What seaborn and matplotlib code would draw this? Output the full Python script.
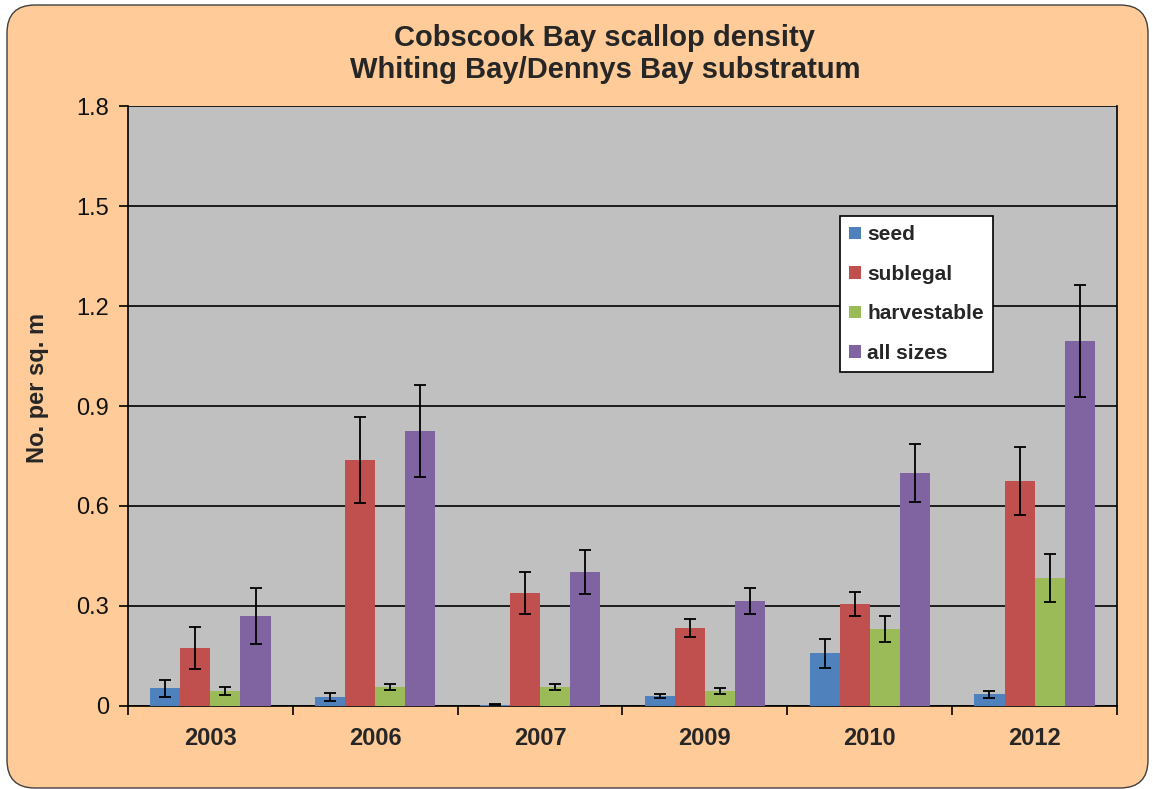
import matplotlib
matplotlib.use("Agg")
import matplotlib.pyplot as plt
import matplotlib.patches as mpatches
from matplotlib.ticker import FixedLocator
import numpy as np
import pandas as pd
import seaborn as sns

# ---- data ----
years = ['2003', '2006', '2007', '2009', '2010', '2012']
series_names = ['seed', 'sublegal', 'harvestable', 'all sizes']
seed = [0.053, 0.027, 0.004, 0.031, 0.158, 0.035]
seed_err = [0.025, 0.013, 0.002, 0.006, 0.043, 0.011]
sublegal = [0.174, 0.738, 0.339, 0.234, 0.306, 0.675]
sublegal_err = [0.062, 0.128, 0.062, 0.028, 0.037, 0.102]
harvestable = [0.045, 0.057, 0.057, 0.045, 0.231, 0.384]
harvestable_err = [0.012, 0.008, 0.008, 0.008, 0.039, 0.072]
all_sizes = [0.270, 0.825, 0.402, 0.315, 0.699, 1.095]
all_sizes_err = [0.085, 0.138, 0.066, 0.039, 0.088, 0.167]
y_ticks = [0, 0.3, 0.6, 0.9, 1.2, 1.5, 1.8]
y_tick_labels = ['0', '0.3', '0.6', '0.9', '1.2', '1.5', '1.8']
title = "Cobscook Bay scallop density\nWhiting Bay/Dennys Bay substratum"
y_label = "No. per sq. m"

colors = ['#4F81BD', '#C0504D', '#9BBB59', '#8064A2']
peach = '#FFCC99'
plot_bg = '#C0C0C0'

values = [seed, sublegal, harvestable, all_sizes]
errors = [seed_err, sublegal_err, harvestable_err, all_sizes_err]

rows = []
for name, vals, errs in zip(series_names, values, errors):
    for yr, v, e in zip(years, vals, errs):
        rows.append({'year': yr, 'series': name, 'value': v, 'err': e})
df = pd.DataFrame(rows)

sns.set_theme(style='white')
plt.rcParams['font.family'] = ['Liberation Sans', 'DejaVu Sans']

W, H = 1153, 789
fig = plt.figure(figsize=(W / 100, H / 100), dpi=100)
fig.patch.set_facecolor('white')

# rounded peach background
bg = mpatches.FancyBboxPatch((7, 1), 1141, 783,
                             boxstyle="round,pad=0,rounding_size=28",
                             transform=None, facecolor=peach,
                             edgecolor='#404040', linewidth=1.0, zorder=0)
fig.add_artist(bg)

left, right, top, bottom = 128, 1117, 106, 706
ax = fig.add_axes([left / W, 1 - bottom / H, (right - left) / W, (bottom - top) / H])
ax.set_facecolor(plot_bg)

sns.barplot(data=df, x='year', y='value', hue='series', order=years,
            hue_order=series_names, palette=colors, errorbar=None,
            width=0.73, saturation=1, ax=ax, zorder=3, linewidth=0)

# error bars at the bar positions produced by seaborn
for cont, errs in zip(ax.containers, errors):
    xs = [b.get_x() + b.get_width() / 2 for b in cont]
    hs = [b.get_height() for b in cont]
    ax.errorbar(xs, hs, yerr=errs, fmt='none', ecolor='black',
                elinewidth=1.3, capsize=4.5, capthick=1.3, zorder=4)

ax.set_ylim(0, 1.8)
ax.set_xlim(-0.5, len(years) - 0.5)
ax.set_yticks(y_ticks)
ax.set_yticklabels(y_tick_labels)
ax.yaxis.grid(True, color='black', linewidth=1.2, zorder=1)
ax.set_axisbelow(True)

for s in ['left', 'bottom', 'right']:
    ax.spines[s].set_visible(True)
    ax.spines[s].set_color('black')
    ax.spines[s].set_linewidth(1.2)
ax.spines['top'].set_visible(False)

ax.tick_params(axis='y', which='major', direction='out', length=6.5, width=1.2,
               color='black', labelsize=17, pad=7, left=True, labelcolor='#111111')
ax.xaxis.set_minor_locator(FixedLocator(np.arange(-0.5, len(years), 1.0)))
ax.tick_params(axis='x', which='minor', direction='out', length=6.5, width=1.2,
               color='black', bottom=True)
ax.tick_params(axis='x', which='major', length=0, pad=15, labelsize=17)
for lbl in ax.get_xticklabels():
    lbl.set_fontweight('bold')

ax.set_xlabel('')
ax.set_ylabel(y_label, fontsize=17, fontweight='bold')
ax.yaxis.set_label_coords(-0.080, 0.53)

ax.legend(loc='upper left', bbox_to_anchor=(840 / W, 1 - 216 / H),
          bbox_transform=fig.transFigure, frameon=True, fancybox=False,
          framealpha=1, facecolor='white', edgecolor='black',
          prop={'size': 15, 'weight': 'bold'}, handlelength=0.55,
          handleheight=0.55, handletextpad=0.3, labelspacing=0.98,
          borderpad=0.45, borderaxespad=0)
ax.get_legend().get_frame().set_linewidth(1.2)

fig.text(605 / W, 1 - 54 / H, title, ha='center', va='center',
         fontsize=21, fontweight='bold', linespacing=1.2)

fig.savefig('out.png', dpi=100)
